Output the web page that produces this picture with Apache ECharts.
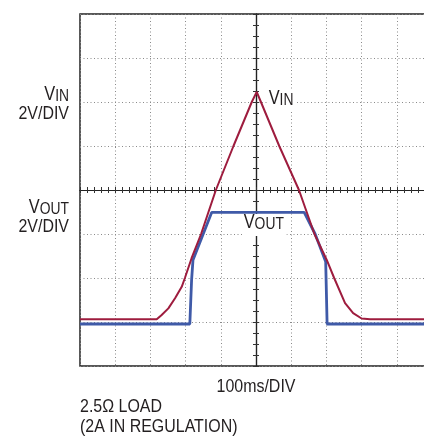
<!DOCTYPE html>
<html><head><meta charset="utf-8">
<script src="https://cdn.jsdelivr.net/npm/echarts@6/dist/echarts.min.js"></script>
<style>html,body{margin:0;padding:0;background:#fff}#c{width:424px;height:436px}</style>
</head><body><div id="c"></div>
<script>
// time in ms (100ms/DIV), values in divisions (2V/DIV)
const vinTime  = [0, 218, 232, 251, 270, 289, 298, 317, 344, 386, 436, 488, 502, 514, 566, 622, 666, 701, 722, 753, 776, 800, 824, 1000];
const vinValue = [1.06, 1.06, 1.16, 1.31, 1.54, 1.80, 2.00, 2.45, 3.00, 4.00, 5.00, 6.00, 6.23, 6.00, 5.00, 4.00, 3.00, 2.41, 2.00, 1.43, 1.20, 1.08, 1.06, 1.06];
const voutTime  = [0, 312, 317, 321, 374, 637, 668, 698, 701, 702, 1000];
const voutValue = [0.955, 0.955, 1.95, 2.41, 3.49, 3.49, 3.0, 2.37, 2.36, 0.955, 0.955];

const xDivs = 10, yDivs = 8;
const msPerDiv = 100;
const xMinorPerDiv = 5, yMinorPerDiv = 4;

const FONT = "'Liberation Sans', Arial, sans-serif";
const SX = 0.84; // condensed look
const INK = '#231f20';
const GRID = {left: 80, top: 14, width: 352, height: 352, outerBoundsMode: 'none', containLabel: false};

const pairs = (t, v) => t.map((x, i) => [x, v[i]]);

function centerX(idx, inside) {
  return {gridIndex: idx, type: 'value', min: -xDivs * msPerDiv / 2, max: xDivs * msPerDiv / 2,
    interval: msPerDiv / xMinorPerDiv,
    axisLine: {show: true, onZero: true, lineStyle: {color: '#222', width: 1.2}},
    axisTick: {show: true, inside: inside, length: 3, lineStyle: {color: '#333', width: 1}},
    axisLabel: {show: false}, splitLine: {show: false}};
}
function centerY(idx, inside) {
  return {gridIndex: idx, type: 'value', min: -yDivs / 2, max: yDivs / 2,
    interval: 1 / yMinorPerDiv,
    axisLine: {show: true, onZero: true, lineStyle: {color: '#222', width: 1.2}},
    axisTick: {show: true, inside: inside, length: 3, lineStyle: {color: '#333', width: 1}},
    axisLabel: {show: false}, splitLine: {show: false}};
}

function label(x, y, main, sub, align, bg) {
  const st = {text: '{m|' + main + '}{s|' + sub + '}', align: align, verticalAlign: 'middle', fill: INK,
      rich: {m: {fontSize: 19.5, fontFamily: FONT, lineHeight: 19, verticalAlign: 'bottom', fill: INK},
             s: {fontSize: 16.5, fontFamily: FONT, lineHeight: 10, verticalAlign: 'bottom', fill: INK}}};
  if (bg) { st.backgroundColor = '#fff'; st.padding = [0, 3, 3, 2]; }
  return {type: 'text', x: x, y: y, z: 100, scaleX: SX, style: st};
}
function plain(x, y, text, align) {
  return {type: 'text', x: x, y: y, z: 100, scaleX: SX,
    style: {text: text, align: align, verticalAlign: 'middle', fontSize: 19, fontFamily: FONT, fill: INK}};
}

const chart = echarts.init(document.getElementById('c'), null, {renderer: 'canvas'});
chart.setOption({
  animation: false,
  backgroundColor: '#fff',
  grid: [
    Object.assign({show: true, borderColor: '#222', borderWidth: 1.5, backgroundColor: 'transparent'}, GRID),
    Object.assign({show: false}, GRID),
    Object.assign({show: false}, GRID)
  ],
  xAxis: [
    {gridIndex: 0, type: 'value', min: 0, max: xDivs * msPerDiv, interval: msPerDiv,
     axisLine: {show: false}, axisTick: {show: false}, axisLabel: {show: false},
     splitLine: {show: true, lineStyle: {color: '#8a8a8a', width: 1, type: [1, 2.5]}}},
    centerX(1, true), centerX(2, false)
  ],
  yAxis: [
    {gridIndex: 0, type: 'value', min: 0, max: yDivs, interval: 1,
     axisLine: {show: false}, axisTick: {show: false}, axisLabel: {show: false},
     splitLine: {show: true, lineStyle: {color: '#8a8a8a', width: 1, type: [1, 2.5]}}},
    centerY(1, true), centerY(2, false)
  ],
  series: [
    {type: 'line', name: 'VOUT', xAxisIndex: 0, yAxisIndex: 0, data: pairs(voutTime, voutValue),
     showSymbol: false, symbol: 'none', z: 5, lineStyle: {color: '#3f5aa8', width: 2.8}},
    {type: 'line', name: 'VIN', xAxisIndex: 0, yAxisIndex: 0, data: pairs(vinTime, vinValue),
     showSymbol: false, symbol: 'none', z: 6, lineStyle: {color: '#9e1c3e', width: 2}}
  ],
  graphic: [
    label(69, 95, 'V', 'IN', 'right', false),
    plain(69, 114, '2V/DIV', 'right'),
    label(69, 208, 'V', 'OUT', 'right', false),
    plain(69, 227, '2V/DIV', 'right'),
    label(267, 101, 'V', 'IN', 'left', true),
    label(242, 225, 'V', 'OUT', 'left', true),
    plain(256, 387, '100ms/DIV', 'center'),
    plain(80, 407, '2.5\u03A9 LOAD', 'left'),
    plain(80, 427, '(2A IN REGULATION)', 'left')
  ]
});
</script>
</body></html>
